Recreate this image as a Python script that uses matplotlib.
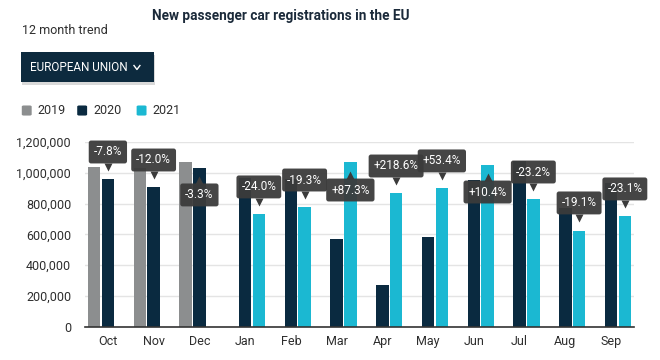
import numpy as np
import matplotlib.pyplot as plt
import matplotlib.transforms as mtransforms
from matplotlib.patches import FancyBboxPatch
from matplotlib.lines import Line2D

plt.rcParams['font.family'] = ['Roboto', 'DejaVu Sans']

months = ['Oct', 'Nov', 'Dec', 'Jan', 'Feb', 'Mar', 'Apr', 'May', 'Jun', 'Jul', 'Aug', 'Sep']
nan = np.nan
reg_2019 = [1036000, 1029000, 1072000, nan, nan, nan, nan, nan, nan, nan, nan, nan]
reg_2020 = [957000, 906000, 1033000, 963000, 961000, 572000, 269000, 585000, 954000, 1078000, 771000, 935000]
reg_2021 = [nan, nan, nan, 732000, 776000, 1068000, 867000, 899000, 1053000, 828000, 624000, 719000]
pct_labels = ['-7.8%', '-12.0%', '-3.3%', '-24.0%', '-19.3%', '+87.3%',
              '+218.6%', '+53.4%', '+10.4%', '-23.2%', '-19.1%', '-23.1%']
# where each tooltip box sits (data units)
label_y = [1135000, 1083000, 856000, 908000, 953000, 888000,
           1044000, 1077000, 875000, 1005000, 804000, 895000]
yticks = [0, 200000, 400000, 600000, 800000, 1000000, 1200000]

c19, c20, c21 = '#8c8e8f', '#0a2a40', '#1bb8d2'
text_c = '#2e2e2e'

fig = plt.figure(figsize=(6.6, 3.6), dpi=100)
ax = fig.add_axes([0.1288, 0.0925, 0.8318, 0.5131])

x = np.arange(len(months))
w = 0.27
off = 0.3
ax.bar(x - off, reg_2019, w, color=c19, zorder=2)
ax.bar(x, reg_2020, w, color=c20, zorder=2)
ax.bar(x + off, reg_2021, w, color=c21, zorder=2)

ax.set_xlim(-0.5, len(months) - 0.5)
ax.set_ylim(0, 1200000)
ax.set_yticks(yticks)
ax.set_yticklabels([f'{v:,}' for v in yticks])
ax.set_xticks(x)
ax.set_xticklabels(months)
ax.tick_params(axis='both', length=0, labelsize=9, colors=text_c)
ax.tick_params(axis='y', pad=10)
ax.tick_params(axis='x', pad=6)
ax.grid(axis='y', color='#e4e4e4', linewidth=1, zorder=0)
for s in ['top', 'right', 'left']:
    ax.spines[s].set_visible(False)
ax.spines['bottom'].set_color('#333333')
ax.spines['bottom'].set_linewidth(1.2)

# tooltip style labels over the latest-year bar
down = mtransforms.offset_copy(ax.transData, fig=fig, y=-10.5, units='points')
up = mtransforms.offset_copy(ax.transData, fig=fig, y=10.5, units='points')
for i in range(len(months)):
    latest = reg_2021[i] if not np.isnan(reg_2021[i]) else reg_2020[i]
    xl = x[i] + off if not np.isnan(reg_2021[i]) else x[i]
    ax.text(xl, label_y[i], pct_labels[i], ha='center', va='center', color='white',
            fontsize=8.5, zorder=5, clip_on=False,
            bbox=dict(boxstyle='round,pad=0.42,rounding_size=0.2', fc='#3b3b3b',
                      ec='none', alpha=0.95))
    if label_y[i] > latest:
        ax.plot(xl, label_y[i], marker='v', ms=6, color='#3b3b3b', mec='none',
                transform=down, zorder=5, clip_on=False)
    else:
        ax.plot(xl, label_y[i], marker='^', ms=6, color='#3b3b3b', mec='none',
                transform=up, zorder=5, clip_on=False)

# header
fig.text(0.4258, 0.955, 'New passenger car registrations in the EU', ha='center',
         va='center', fontsize=9.8, fontweight='bold', color='#1b2a3a')
fig.text(0.033, 0.914, '12 month trend', ha='left', va='center', fontsize=9, color=text_c)

shadow = FancyBboxPatch((0.034, 0.764), 0.201, 0.083, boxstyle='square,pad=0',
                        transform=fig.transFigure, fc='#d9d9d9', ec='none')
btn = FancyBboxPatch((0.032, 0.772), 0.201, 0.083, boxstyle='square,pad=0',
                     transform=fig.transFigure, fc='#0d2a3e', ec='none')
fig.patches.extend([shadow, btn])
fig.text(0.045, 0.813, 'EUROPEAN UNION', ha='left', va='center', fontsize=8.5,
         color='white')
fig.lines.append(Line2D([0.2030, 0.2075, 0.2120], [0.818, 0.807, 0.818],
                        transform=fig.transFigure, color='white', linewidth=1.0))

legend_items = [('2019', c19, 0.033), ('2020', c20, 0.117), ('2021', c21, 0.207)]
for lab, col, lx in legend_items:
    sq = FancyBboxPatch((lx, 0.679), 0.015, 0.028,
                        boxstyle='round,pad=0,rounding_size=0.003',
                        transform=fig.transFigure, fc=col, ec='none')
    fig.patches.append(sq)
    fig.text(lx + 0.024, 0.693, lab, ha='left', va='center', fontsize=9, color=text_c)

fig.savefig('out.png', dpi=100)
